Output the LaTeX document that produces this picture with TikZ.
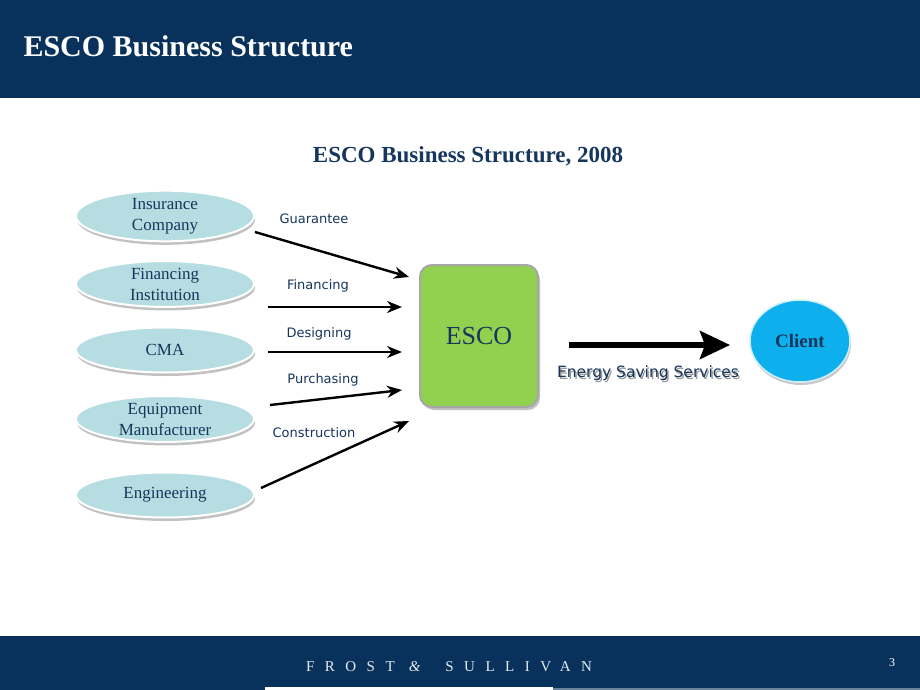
\documentclass[tikz,border=0pt]{standalone}
\usepackage{fontspec}
\setmainfont{Liberation Serif}
\newfontfamily\labfont{DejaVu Sans}
\newfontfamily\fsfont[LetterSpace=70]{Liberation Serif}
\usetikzlibrary{shadows,arrows.meta,shapes.geometric}
\definecolor{navy}{HTML}{08325C}
\definecolor{txt}{HTML}{17365D}
\definecolor{ellfill}{HTML}{B6DDE1}
\definecolor{escog}{HTML}{92D050}
\definecolor{clientb}{HTML}{0DB0EC}
\tikzset{
  src/.style={ellipse, minimum width=178pt, minimum height=45pt, fill=ellfill, draw=white, line width=2pt,
    drop shadow={shadow xshift=1pt, shadow yshift=-3.5pt, fill=black!40, opacity=0.6},
    font=\fontsize{17}{21}\selectfont, text=txt, align=center, inner sep=0pt},
  flow/.style={-{Stealth[length=15pt,width=12pt]}, line width=2.4pt, black},
  lab/.style={font=\labfont\fontsize{13}{13}\selectfont, text=txt}
}
\begin{document}
\begin{tikzpicture}[x=1pt,y=-1pt]
\useasboundingbox (0,0) rectangle (920,690);
\fill[white] (0,0) rectangle (920,690);
% header
\fill[navy] (0,0) rectangle (920,98);
\node[anchor=west, text=white, font=\bfseries\fontsize{30}{30}\selectfont] (title) at (20,46) {ESCO Business Structure};
% footer
\fill[navy] (0,636) rectangle (920,690);
\fill[white] (265,687) rectangle (553,690);
\fill[navy!60!white] (553,688) rectangle (920,690);
\node[text=white!90!navy, font=\fsfont\fontsize{15}{15}\selectfont] (brand) at (449,667) {FROST \textit{\&} SULLIVAN};
\node[text=white, font=\fontsize{12}{12}\selectfont] (page) at (892,663) {3};
% subtitle
\node[text=txt, font=\bfseries\fontsize{23}{23}\selectfont] (sub) at (468,156) {ESCO Business Structure, 2008};
% sources
\node[src] (ins) at (165,216) {Insurance\\Company};
\node[src] (fin) at (165,284) {Financing\\Institution};
\node[src] (cma) at (165,350) {CMA};
\node[src] (equ) at (165,419) {Equipment\\Manufacturer};
\node[src] (eng) at (165,495) {Engineering};
% ESCO box
\node[rounded corners=12pt, minimum width=118pt, minimum height=142pt, fill=escog, draw=black!35, line width=2pt,
  drop shadow={shadow xshift=2pt, shadow yshift=-3pt, fill=black!40, opacity=0.6},
  text=txt, font=\fontsize{26}{26}\selectfont] (esco) at (479,336) {ESCO};
% client
\node[ellipse, minimum width=100pt, minimum height=82pt, fill=clientb, draw=white!80!clientb, line width=1.5pt,
  drop shadow={shadow xshift=1pt, shadow yshift=-3pt, fill=black!35, opacity=0.6},
  text=txt, font=\bfseries\fontsize{19}{19}\selectfont] (client) at (800,341) {Client};
% connectors
\coordinate (g1) at (255,232); \coordinate (g2) at (409,277);
\coordinate (f1) at (268,307); \coordinate (f2) at (402,307);
\coordinate (d1) at (268,352); \coordinate (d2) at (402,352);
\coordinate (p1) at (270,405); \coordinate (p2) at (402,390);
\coordinate (c1) at (261,488); \coordinate (c2) at (409,421);
\draw[flow] (g1) -- (g2);
\draw[flow] (f1) -- (f2);
\draw[flow] (d1) -- (d2);
\draw[flow] (p1) -- (p2);
\draw[flow] (c1) -- (c2);
\node[lab] (lg) at (314,219) {Guarantee};
\node[lab] (lf) at (318,286) {Financing};
\node[lab] (ld) at (319,334) {Designing};
\node[lab] (lp) at (323,380) {Purchasing};
\node[lab] (lc) at (314,433) {Construction};
% big arrow
\coordinate (b1) at (569,345); \coordinate (b2) at (730,345);
\draw[-{Stealth[length=30pt,width=28pt,inset=5pt]}, line width=5.5pt, black] (b1) -- (b2);
\node[font=\labfont\fontsize{15.5}{15.5}\selectfont, text=black!40] (es2) at (649.5,375) {Energy Saving Services};
\node[font=\labfont\fontsize{15.5}{15.5}\selectfont, text=txt] (es) at (648,373) {Energy Saving Services};
\end{tikzpicture}
\end{document}
